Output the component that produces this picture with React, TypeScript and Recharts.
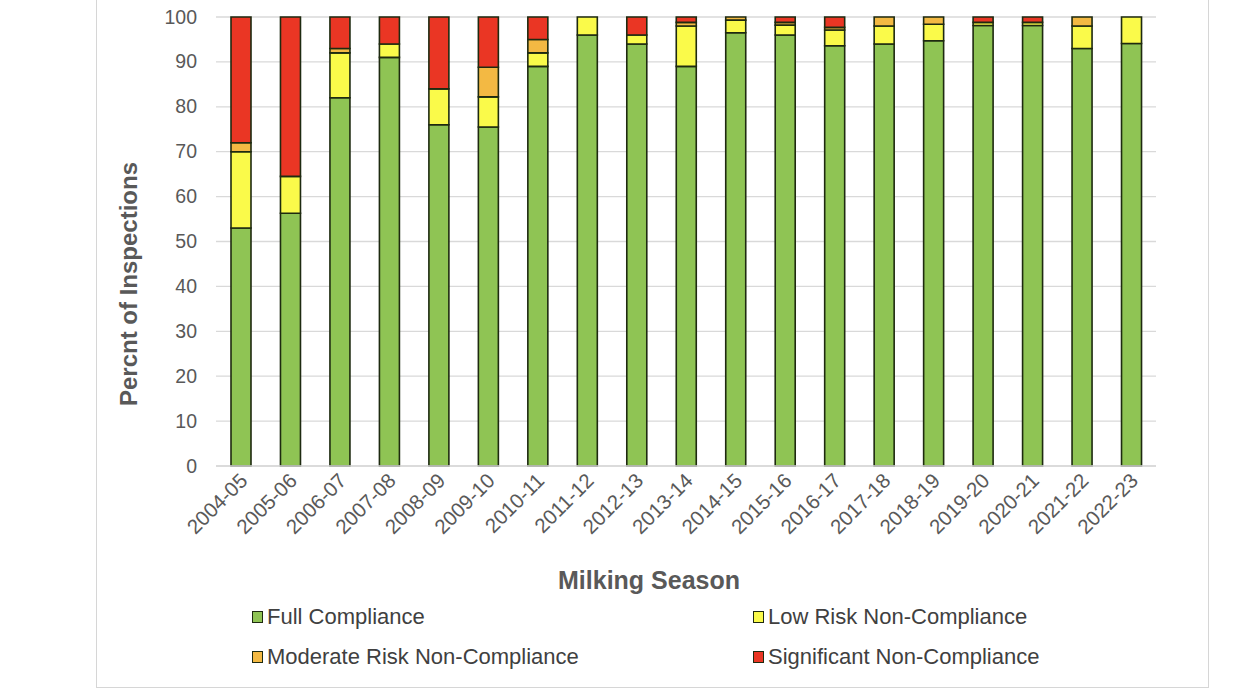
import React from 'react';
import { BarChart, Bar, XAxis, YAxis, CartesianGrid } from 'recharts';

const seasons = ['2004-05','2005-06','2006-07','2007-08','2008-09','2009-10','2010-11','2011-12','2012-13','2013-14','2014-15','2015-16','2016-17','2017-18','2018-19','2019-20','2020-21','2021-22','2022-23'];
const fullCompliance = [53, 56.3, 82, 91, 76, 75.5, 89, 96, 94, 89, 96.5, 96, 93.6, 94, 94.7, 98.1, 98.1, 93, 94.1];
const lowRisk = [17, 8.2, 10, 3, 8, 6.7, 3, 4, 2, 9, 2.8, 2.2, 3.5, 4, 3.7, 0.7, 0.7, 5, 5.9];
const moderateRisk = [2, 0, 1, 0, 0, 6.6, 3, 0, 0, 0.8, 0.7, 0.6, 0.6, 2, 1.6, 0, 0, 2, 0];
const significant = [28, 35.5, 7, 6, 16, 11.2, 5, 0, 4, 1.2, 0, 1.2, 2.3, 0, 0, 1.2, 1.2, 0, 0];
const yTicks = [0, 10, 20, 30, 40, 50, 60, 70, 80, 90, 100];

const data = seasons.map((s, i) => ({
  season: s,
  full: fullCompliance[i],
  low: lowRisk[i],
  moderate: moderateRisk[i],
  significant: significant[i],
}));

const GREEN = '#8fc454';
const YELLOW = '#fafa4a';
const ORANGE = '#f3b943';
const RED = '#ea3624';
const STROKE = '#1e2a10';
const FONT = '"Liberation Sans", Arial, sans-serif';

const XTick = (props: any) => {
  const { x, payload } = props;
  const ax = x + 8;
  const ay = 482;
  return (
    <text x={ax} y={ay} transform={`rotate(-45 ${ax} ${ay})`} textAnchor="end" fontSize={20.5} fill="#595959" fontFamily={FONT}>
      {payload.value}
    </text>
  );
};

const YTick = (props: any) => {
  const { y, payload } = props;
  return (
    <text x={197} y={y} dy={6.5} textAnchor="end" fontSize={19.5} fill="#595959" fontFamily={FONT}>
      {payload.value}
    </text>
  );
};

const legendItems = [
  { label: 'Full Compliance', color: GREEN, x: 252, y: 617 },
  { label: 'Low Risk Non-Compliance', color: YELLOW, x: 753, y: 617 },
  { label: 'Moderate Risk Non-Compliance', color: ORANGE, x: 252, y: 657 },
  { label: 'Significant Non-Compliance', color: RED, x: 753, y: 657 },
];

export default function App() {
  return (
    <div style={{ position: 'absolute', left: 0, top: 0, width: 1240, height: 697, background: '#fff', overflow: 'hidden', fontFamily: FONT }}>
      <div style={{ position: 'absolute', left: 96, top: -10, width: 1113, height: 698, border: '1px solid #d6d6d6', boxSizing: 'border-box' }} />
      <BarChart
        width={1240}
        height={697}
        data={data}
        margin={{ top: 17, right: 84, bottom: 0, left: 0 }}
        barSize={20}
        style={{ position: 'absolute', left: 0, top: 0 }}
      >
        <CartesianGrid vertical={false} stroke="#d9d9d9" strokeWidth={1.3} />
        <XAxis dataKey="season" height={231} tickLine={false} axisLine={{ stroke: '#d9d9d9', strokeWidth: 1.3 }} tick={<XTick />} interval={0} />
        <YAxis width={216} domain={[0, 100]} ticks={yTicks} tickLine={false} axisLine={false} tick={<YTick />} />
        <Bar dataKey="full" stackId="a" fill={GREEN} stroke={STROKE} strokeWidth={1.6} isAnimationActive={false} />
        <Bar dataKey="low" stackId="a" fill={YELLOW} stroke={STROKE} strokeWidth={1.6} isAnimationActive={false} />
        <Bar dataKey="moderate" stackId="a" fill={ORANGE} stroke={STROKE} strokeWidth={1.6} isAnimationActive={false} />
        <Bar dataKey="significant" stackId="a" fill={RED} stroke={STROKE} strokeWidth={1.6} isAnimationActive={false} />
      </BarChart>
      <div style={{ position: 'absolute', left: 129, top: 284, transform: 'translate(-50%, -50%) rotate(-90deg)', whiteSpace: 'nowrap', fontSize: 24, fontWeight: 'bold', color: '#595959' }}>
        Percnt of Inspections
      </div>
      <div style={{ position: 'absolute', left: 649, top: 580, transform: 'translate(-50%, -50%)', whiteSpace: 'nowrap', fontSize: 25, fontWeight: 'bold', color: '#595959' }}>
        Milking Season
      </div>
      {legendItems.map((it) => (
        <div key={it.label} style={{ position: 'absolute', left: it.x, top: it.y, transform: 'translateY(-50%)', display: 'flex', alignItems: 'center', whiteSpace: 'nowrap' }}>
          <span style={{ display: 'inline-block', width: 11, height: 12, background: it.color, border: `1.5px solid ${STROKE}`, boxSizing: 'border-box', marginRight: 4 }} />
          <span style={{ fontSize: 22, color: '#404040' }}>{it.label}</span>
        </div>
      ))}
    </div>
  );
}
